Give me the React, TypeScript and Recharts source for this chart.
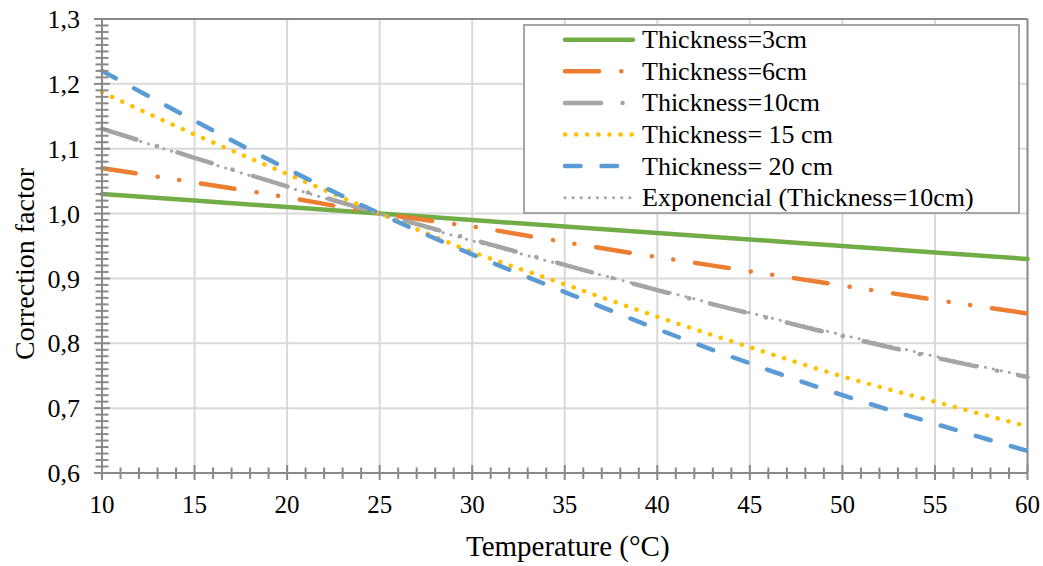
import React from 'react';
import { LineChart, Line, XAxis, YAxis, ReferenceLine, Legend } from 'recharts';

// ---------- data ----------
const temperatures = [10, 15, 20, 25, 30, 35, 40, 45, 50, 55, 60];
const thickness3 = [1.03, 1.02, 1.01, 1.0, 0.99, 0.98, 0.97, 0.96, 0.95, 0.94, 0.93];
const thickness6 = [1.07, 1.048, 1.025, 1.0, 0.98, 0.956, 0.933, 0.911, 0.889, 0.867, 0.846];
const thickness10 = [1.131, 1.086, 1.042, 1.0, 0.96, 0.921, 0.882, 0.846, 0.811, 0.778, 0.748];
const thickness15 = [1.187, 1.122, 1.061, 1.0, 0.941, 0.891, 0.841, 0.794, 0.749, 0.71, 0.672];
const thickness20 = [1.22, 1.143, 1.069, 1.0, 0.937, 0.879, 0.822, 0.769, 0.72, 0.676, 0.634];
const expTrend10 = [1.13, 1.085, 1.041, 0.999, 0.958, 0.92, 0.883, 0.847, 0.813, 0.78, 0.749];

const seriesKeys = ['s3', 's6', 's10', 's15', 's20', 'exp10'];
const seriesNames = [
  'Thickness=3cm',
  'Thickness=6cm',
  'Thickness=10cm',
  'Thickness= 15 cm',
  'Thickness= 20 cm',
  'Exponencial (Thickness=10cm)',
];
const seriesColors = ['#70ad47', '#ed7d31', '#a5a5a5', '#ffc000', '#5b9bd5', '#a5a5a5'];
const seriesWidths = [4.5, 4.5, 4.5, 4.5, 4.5, 3];
const seriesDashes = [undefined, '34 22.3 0.1 21.6 0.1 22', '36 21.5 0.1 21.5', '0.1 11', '15.5 21', '0.1 8'];

const xMajor = [10, 15, 20, 25, 30, 35, 40, 45, 50, 55, 60];
const xTickLabels = ['10', '15', '20', '25', '30', '35', '40', '45', '50', '55', '60'];
const yMajor = [0.6, 0.7, 0.8, 0.9, 1.0, 1.1, 1.2, 1.3];
const yTickLabels = ['0,6', '0,7', '0,8', '0,9', '1,0', '1,1', '1,2', '1,3'];
const gridX = [15, 20, 25, 30, 35, 40, 45, 50, 55];
const gridY = [0.7, 0.8, 0.9, 1.0, 1.1, 1.2];

// minor tick positions (every 1 °C, every 0.01)
const xTicks = Array.from({ length: 51 }, (_, i) => 10 + i);
const yTicks = Array.from({ length: 71 }, (_, i) => Math.round((0.6 + i * 0.01) * 100) / 100);

const data = temperatures.map((t, i) => ({
  t,
  s3: thickness3[i],
  s6: thickness6[i],
  s10: thickness10[i],
  s15: thickness15[i],
  s20: thickness20[i],
  exp10: expTrend10[i],
}));

const FONT = '"Liberation Serif", "Times New Roman", serif';
const AXIS = '#898989';

const XTick = (props: any) => {
  const { x, y, payload } = props;
  const idx = xMajor.findIndex((m) => Math.abs(m - payload.value) < 1e-6);
  const major = idx >= 0;
  return (
    <g>
      <line x1={x} x2={x} y1={y - (major ? 8 : 5.5)} y2={y + (major ? 7 : 6)} stroke={AXIS} strokeWidth={2} />
      {major && (
        <text x={x} y={y + 40} textAnchor="middle" fontSize={25} fontFamily={FONT} fill="#000">
          {xTickLabels[idx]}
        </text>
      )}
    </g>
  );
};

const YTick = (props: any) => {
  const { x, y, payload } = props;
  const idx = yMajor.findIndex((m) => Math.abs(m - payload.value) < 1e-6);
  const major = idx >= 0;
  return (
    <g>
      <line x1={x - (major ? 8 : 6.5)} x2={x + (major ? 8 : 6.5)} y1={y} y2={y} stroke={AXIS} strokeWidth={2} />
      {major && (
        <text x={x - 22} y={y} dy="0.35em" textAnchor="end" fontSize={26} fontFamily={FONT} fill="#000">
          {yTickLabels[idx]}
        </text>
      )}
    </g>
  );
};

const renderLegend = (props: any) => {
  const payload = [...(props.payload || [])].sort(
    (a: any, b: any) => seriesKeys.indexOf(a.dataKey) - seriesKeys.indexOf(b.dataKey)
  );
  return (
    <svg width={497} height={190} style={{ display: 'block' }}>
      <rect x={1} y={1} width={495} height={188} fill="#ffffff" stroke="#a6a6a6" strokeWidth={2} />
      {payload.map((entry: any, i: number) => {
        const k = seriesKeys.indexOf(entry.dataKey);
        const cy = 15.7 + i * 31.6;
        return (
          <g key={String(entry.dataKey)}>
            <line
              x1={42}
              x2={110}
              y1={cy}
              y2={cy}
              stroke={entry.color}
              strokeWidth={seriesWidths[k]}
              strokeDasharray={seriesDashes[k]}
              strokeLinecap="round"
            />
            <text x={119} y={cy + 8.5} fontSize={26} fontFamily={FONT} fill="#000">
              {entry.value}
            </text>
          </g>
        );
      })}
    </svg>
  );
};

export default function App() {
  return (
    <div style={{ position: 'absolute', left: 0, top: 0, width: 1043, height: 566, background: '#fff' }}>
      <LineChart width={1043} height={566} data={data} margin={{ top: 19, right: 15.5, left: 0, bottom: 0 }}>
        <XAxis
          type="number"
          dataKey="t"
          domain={[10, 60]}
          ticks={xTicks}
          interval={0}
          tickLine={false}
          tickSize={0}
          tickMargin={0}
          height={93}
          axisLine={{ stroke: AXIS, strokeWidth: 2 }}
          tick={XTick}
          label={{
            content: (p: any) => {
              const vb = p.viewBox;
              return (
                <text
                  x={vb.x + vb.width / 2 + 3}
                  y={vb.y + vb.height - 10}
                  textAnchor="middle"
                  fontSize={29}
                  fontFamily={FONT}
                  fill="#000"
                >
                  Temperature (°C)
                </text>
              );
            },
          }}
        />
        <YAxis
          type="number"
          domain={[0.6, 1.3]}
          ticks={yTicks}
          interval={0}
          tickLine={false}
          tickSize={0}
          tickMargin={0}
          width={102}
          axisLine={{ stroke: AXIS, strokeWidth: 2 }}
          tick={YTick}
          allowDataOverflow
          label={{
            content: (p: any) => {
              const vb = p.viewBox;
              const cx = vb.x + 24;
              const cy = vb.y + vb.height / 2 + 18;
              return (
                <text
                  x={cx}
                  y={cy}
                  transform={`rotate(-90 ${cx} ${cy})`}
                  textAnchor="middle"
                  dominantBaseline="central"
                  fontSize={28}
                  fontFamily={FONT}
                  fill="#000"
                >
                  Correction factor
                </text>
              );
            },
          }}
        />
        {gridX.map((v) => (
          <ReferenceLine key={'gx' + v} x={v} stroke="#d9d9d9" strokeWidth={2} zIndex={-100} />
        ))}
        {gridY.map((v) => (
          <ReferenceLine key={'gy' + v} y={v} stroke="#d9d9d9" strokeWidth={2} zIndex={-100} />
        ))}
        <ReferenceLine y={1.3} stroke={AXIS} strokeWidth={2} zIndex={-90} />
        <ReferenceLine x={60} stroke={AXIS} strokeWidth={2} zIndex={-90} />
        {seriesKeys.map((k, i) => (
          <Line
            key={k}
            type="monotone"
            dataKey={k}
            name={seriesNames[i]}
            stroke={seriesColors[i]}
            strokeWidth={seriesWidths[i]}
            strokeDasharray={seriesDashes[i]}
            strokeLinecap="round"
            dot={false}
            activeDot={false}
            isAnimationActive={false}
          />
        ))}
        <Legend
          layout="vertical"
          align="center"
          verticalAlign="middle"
          wrapperStyle={{ left: 523.3, top: 24.3, width: 497, height: 190 }}
          content={renderLegend}
        />
      </LineChart>
    </div>
  );
}
